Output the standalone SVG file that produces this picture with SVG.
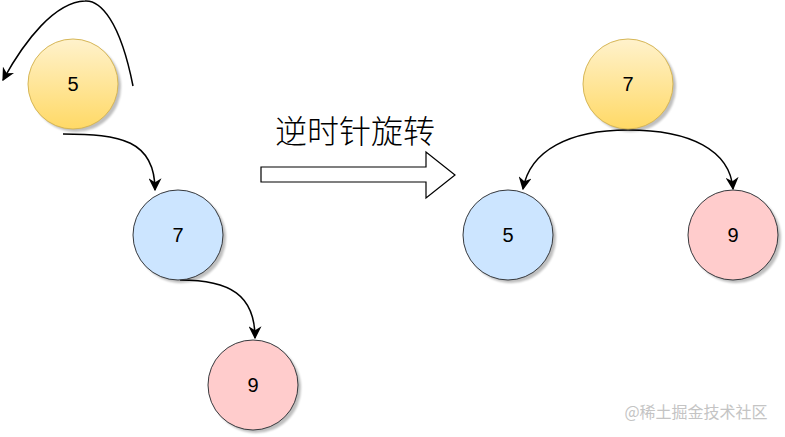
<svg xmlns="http://www.w3.org/2000/svg" width="785" height="437" viewBox="0 0 785 437">
<style>
.lbl{font-family:"Liberation Sans",Arial,sans-serif;font-size:20px;fill:#000;text-anchor:middle;dominant-baseline:central}
.edge{fill:none;stroke:#000;stroke-width:1.5}
.shadow{fill:#000;opacity:0.25}
</style>
<defs>
<linearGradient id="gy" x1="0" y1="0" x2="0" y2="1">
<stop offset="0" stop-color="#fff2cc"/>
<stop offset="1" stop-color="#ffd966"/>
</linearGradient>
<marker id="ah" viewBox="0 0 10 10" refX="9" refY="5" markerWidth="13" markerHeight="13" markerUnits="userSpaceOnUse" orient="auto">
<path d="M0,0 L10,5 L0,10 L3,5 Z" fill="#000"/>
</marker>
<filter id="sh" x="-20%" y="-20%" width="150%" height="150%">
<feGaussianBlur stdDeviation="1"/>
</filter>
</defs>
<rect width="785" height="437" fill="#fff"/>
<g id="connectors">
<path class="edge" d="M133,86 C120,20 100,0 85,1 C55,2 25,40 3,80" marker-end="url(#ah)"/>
<path class="edge" d="M63,134 C120,134 155,140 155,190" marker-end="url(#ah)"/>
<path class="edge" d="M180,280 C230,280 255,295 255,338" marker-end="url(#ah)"/>
<path class="edge" d="M628,130 C570,130 530,150 523,189" marker-end="url(#ah)"/>
<path class="edge" d="M628,130 C690,130 730,150 733,189" marker-end="url(#ah)"/>
</g>
<g id="node-5-left">
<circle cx="76" cy="87" r="45" class="shadow" filter="url(#sh)"/>
<circle cx="73" cy="84" r="45" fill="url(#gy)" stroke="#d6b656"/>
<text class="lbl" x="73" y="84">5</text>
</g>
<g id="node-7-left">
<circle cx="181" cy="238" r="45" class="shadow" filter="url(#sh)"/>
<circle cx="178" cy="235" r="45" fill="#cce5ff" stroke="#36393d"/>
<text class="lbl" x="178" y="235">7</text>
</g>
<g id="node-9-left">
<circle cx="256" cy="388" r="45" class="shadow" filter="url(#sh)"/>
<circle cx="253" cy="385" r="45" fill="#ffcccc" stroke="#36393d"/>
<text class="lbl" x="253" y="385">9</text>
</g>
<g id="node-7-right">
<circle cx="631" cy="87" r="45" class="shadow" filter="url(#sh)"/>
<circle cx="628" cy="84" r="45" fill="url(#gy)" stroke="#d6b656"/>
<text class="lbl" x="628" y="84">7</text>
</g>
<g id="node-5-right">
<circle cx="511" cy="238" r="45" class="shadow" filter="url(#sh)"/>
<circle cx="508" cy="235" r="45" fill="#cce5ff" stroke="#36393d"/>
<text class="lbl" x="508" y="235">5</text>
</g>
<g id="node-9-right">
<circle cx="736" cy="238" r="45" class="shadow" filter="url(#sh)"/>
<circle cx="733" cy="235" r="45" fill="#ffcccc" stroke="#36393d"/>
<text class="lbl" x="733" y="235">9</text>
</g>
<g id="rotate-arrow">
<path d="M261,167 L426,167 L426,152 L455,175 L426,198 L426,182 L261,182 Z" fill="#fff" stroke="#000" stroke-width="1.2"/>
<text x="355" y="143" font-family="'Noto Sans CJK SC','Noto Sans',sans-serif" font-size="32" font-weight="300" text-anchor="middle" fill="#000">逆时针旋转</text>
</g>
<text x="696" y="418" font-family="'Noto Sans CJK SC','Noto Sans',sans-serif" font-size="16" text-anchor="middle" fill="#c4c4c4">@稀土掘金技术社区</text>
</svg>
